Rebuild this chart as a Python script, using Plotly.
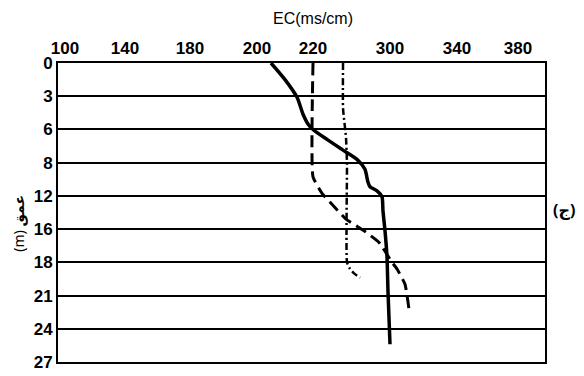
import numpy as np
import plotly.graph_objects as go

# Axis tick labels (as printed on the chart)
EC_TICKS = [100, 140, 180, 200, 220, 300, 340, 380]
DEPTH_TICKS = [0, 3, 6, 8, 12, 16, 18, 21, 24, 27]

# Series (EC in ms/cm, depth in m)
solid_ec = [205, 210, 214.3, 216.4, 218.2, 220, 234.5, 250, 265.7, 274, 277, 279.2, 286.5, 291.7, 292.7, 294.8, 296.9, 297.9, 300]
solid_depth = [0, 1.5, 3.1, 4.6, 5.5, 6.0, 6.6, 7.2, 7.8, 8.8, 10.3, 10.9, 11.4, 12.1, 13.8, 16.1, 17.7, 20.6, 25.4]

dashed_ec = [220, 220, 229.4, 239.7, 254.3, 273, 288.6, 301.2, 304.2, 309, 311.3]
dashed_depth = [0, 9.7, 11.7, 13.0, 14.8, 16.1, 16.8, 18.0, 18.6, 20.0, 22.2]

dashdot_ec = [251.2, 251.2, 254.3, 255.3, 255.3, 258.5, 262.6, 268.9]
dashdot_depth = [0, 4.1, 6.5, 8.0, 18.0, 18.6, 19.0, 19.4]

# Layout (page pixels; the html body adds an 8px offset)
OFF = 8
W, H = 584, 376
PLOT_L, PLOT_R, PLOT_T, PLOT_B = 58, 545, 63, 370
EC_TICK_POS = [65, 125, 190, 257, 313, 390, 457, 518]
DEPTH_IDX = list(range(len(DEPTH_TICKS)))

l = PLOT_L - OFF
t = PLOT_T - OFF
r = W - (PLOT_R - OFF)
b = H - (PLOT_B - OFF)
pw, ph = W - l - r, H - t - b


def xpos(v):
    return np.interp(v, EC_TICKS, EC_TICK_POS)


def ypos(d):
    return np.interp(d, DEPTH_TICKS, DEPTH_IDX)


def px(xp):
    return (xp - OFF - l) / pw


def py(yp):
    return (H - b - (yp - OFF)) / ph


fig = go.Figure()
fig.add_trace(go.Scatter(x=xpos(solid_ec), y=ypos(solid_depth), mode="lines",
                         line=dict(color="black", width=3.5, shape="spline", smoothing=0.6),
                         showlegend=False, hoverinfo="skip"))
fig.add_trace(go.Scatter(x=xpos(dashed_ec), y=ypos(dashed_depth), mode="lines",
                         line=dict(color="black", width=3, dash="12px,6px", shape="spline", smoothing=0.4),
                         showlegend=False, hoverinfo="skip"))
fig.add_trace(go.Scatter(x=xpos(dashdot_ec), y=ypos(dashdot_depth), mode="lines",
                         line=dict(color="black", width=2.5, dash="7px,3px,2px,3px", shape="spline", smoothing=0.4),
                         showlegend=False, hoverinfo="skip"))

tickfont = dict(family="Liberation Sans Narrow, Liberation Sans, Arial", size=17, color="black")

fig.update_layout(
    width=W, height=H, autosize=False,
    margin=dict(l=l, r=r, t=t, b=b),
    paper_bgcolor="white", plot_bgcolor="white",
    xaxis=dict(side="top", range=[PLOT_L, PLOT_R], tickmode="array", tickvals=EC_TICK_POS,
               ticktext=["<b>%d</b>" % v for v in EC_TICKS], tickfont=tickfont,
               showgrid=False, zeroline=False, showline=True, mirror=True,
               linecolor="black", linewidth=2, ticks=""),
    yaxis=dict(range=[DEPTH_IDX[-1], 0], tickmode="array", tickvals=DEPTH_IDX,
               ticktext=["<b>%d</b>" % v for v in DEPTH_TICKS], tickfont=tickfont,
               showgrid=True, gridcolor="black", gridwidth=1.5, zeroline=False,
               showline=True, mirror=True, linecolor="black", linewidth=2, ticks=""),
    annotations=[
        dict(text="EC(ms/cm)", x=px(313), y=py(17), xref="paper", yref="paper",
             xanchor="center", yanchor="middle",
             showarrow=False, font=dict(family="Liberation Sans, Arial", size=16, color="black")),
        dict(text="(m) <b>عمق</b>", x=px(19), y=py(228), xref="paper", yref="paper", textangle=-90,
             xanchor="center", yanchor="middle",
             showarrow=False, font=dict(family="Noto Sans, DejaVu Sans", size=14, color="black")),
        dict(text="<b>(ج)</b>", x=px(564), y=py(214), xref="paper", yref="paper",
             xanchor="center", yanchor="middle",
             showarrow=False, font=dict(family="Noto Sans, DejaVu Sans", size=16, color="black")),
    ],
)

fig.write_html("out.html")
